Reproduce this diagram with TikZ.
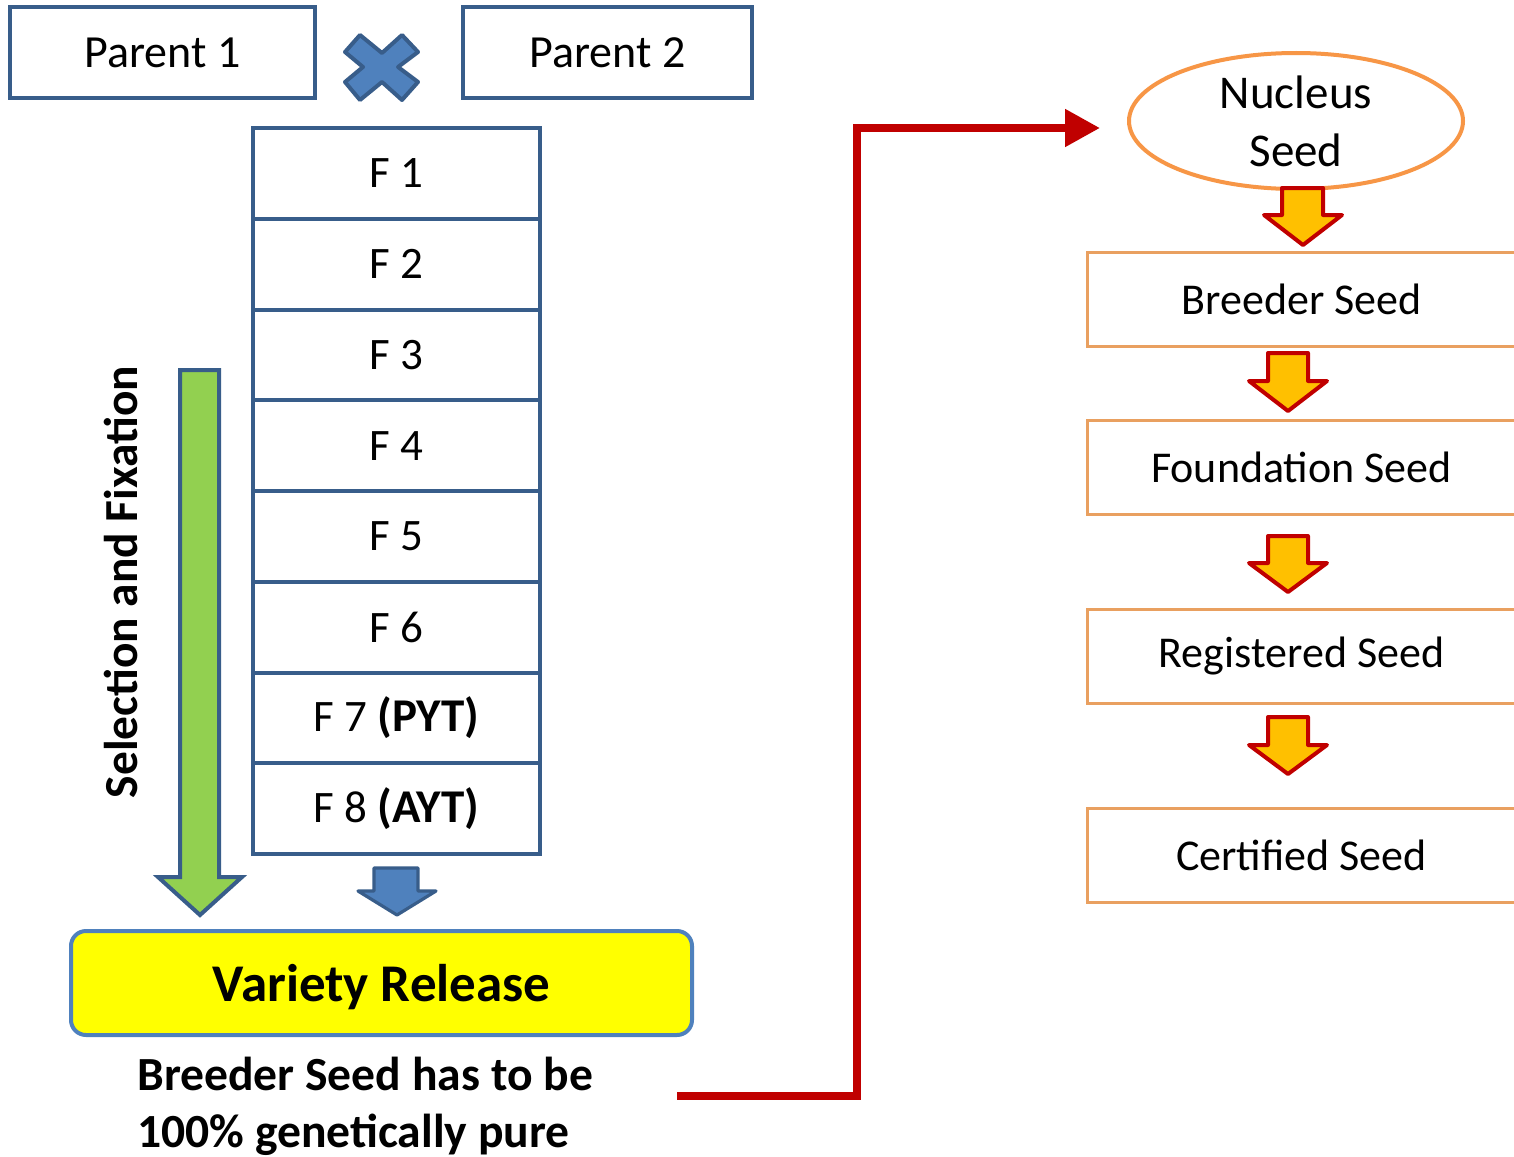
\documentclass[tikz,border=0pt]{standalone}
\usepackage{fontspec}
\setmainfont{Carlito}
\usetikzlibrary{shapes.geometric,arrows.meta}
\definecolor{bdark}{HTML}{385D8A}
\definecolor{bmid}{HTML}{4F81BD}
\definecolor{gfill}{HTML}{92D050}
\definecolor{ofill}{HTML}{FFC000}
\definecolor{rline}{HTML}{C00000}
\definecolor{oline}{HTML}{F79646}
\definecolor{tline}{HTML}{E9A060}
\definecolor{yfill}{HTML}{FFFF00}
\tikzset{
  parentbox/.style={draw=bdark, line width=2pt, fill=white, minimum height=45.5pt, inner sep=0pt, outer sep=0pt, font=\fontsize{23}{27}\selectfont},
  genbox/.style={draw=bdark, line width=2pt, fill=white, minimum width=143.5pt, minimum height=45.4pt, inner sep=0pt, outer sep=0pt, font=\fontsize{22.5}{27}\selectfont},
  seedbox/.style={draw=tline, line width=1.5pt, fill=white, minimum width=214.5pt, minimum height=47pt, inner sep=0pt, outer sep=0pt, font=\fontsize{22}{26}\selectfont},
  bluearrow/.style={draw=bdark, fill=bmid, line width=1.6pt, line join=round},
  greenarrow/.style={draw=bdark, fill=gfill, line width=2pt, line join=miter},
  orangearrow/.style={draw=rline, fill=ofill, line width=2pt, line join=round},
  notetext/.style={font=\bfseries\fontsize{23.8}{28}\selectfont, inner sep=0pt, anchor=base west},
}
\begin{document}
\begin{tikzpicture}[x=0.5pt,y=-0.5pt]
\useasboundingbox (0,0) rectangle (1514,1156);
\clip (0,0) rectangle (1514,1156);
% parents
\node[parentbox, minimum width=152.5pt] (p1) at (162.5,52.5) {Parent 1};
\node[parentbox, minimum width=144.5pt] (p2) at (607.5,52.5) {Parent 2};
\draw[draw=bdark, fill=bmid, line width=2pt, line join=round]
  (345,52)--(360,35)--(382,53)--(402,35)--(418,52)--(398,67)--(418,82)--(402,100)--(382,82)--(360,100)--(345,82)--(363,67)--cycle;
% generations
\node[genbox] (f1) at (396.5,173.4) {F 1};
\node[genbox] (f2) at (396.5,264.1) {F 2};
\node[genbox] (f3) at (396.5,354.9) {F 3};
\node[genbox] (f4) at (396.5,445.6) {F 4};
\node[genbox] (f5) at (396.5,536.4) {F 5};
\node[genbox] (f6) at (396.5,627.1) {F 6};
\node[genbox] (f7) at (396.5,717.9) {F 7 {\fontsize{23.5}{27}\selectfont\textbf{(PYT)}}};
\node[genbox] (f8) at (396.5,808.6) {F 8 {\fontsize{23.5}{27}\selectfont\textbf{(AYT)}}};
% arrows
\draw[bluearrow] (374,868)--(418,868)--(418,891)--(436,891)--(397,915)--(358,891)--(374,891)--cycle;
\draw[greenarrow] (180,370)--(219,370)--(219,877)--(242,877)--(200,915)--(158,877)--(180,877)--cycle;
\node[font=\bfseries\fontsize{23.7}{28}\selectfont, rotate=90, anchor=base, inner sep=0pt] (sel) at (137,582) {Selection and Fixation};
% release
\node[draw=bmid, line width=2pt, fill=yfill, rounded corners=7.5pt, minimum width=310.5pt, minimum height=52pt, inner sep=0pt, text depth=0pt, font=\bfseries\fontsize{26.5}{30}\selectfont] (vr) at (381.5,983) {Variety Release};
\node[notetext] (n1) at (137,1090) {Breeder Seed has to be};
\node[notetext] (n2) at (137,1147) {100\% genetically pure};
% right side
\node[ellipse, draw=oline, line width=2pt, fill=white, minimum width=167pt, minimum height=68pt, inner sep=0pt, align=center, font=\fontsize{23.5}{29}\selectfont] (nuc) at (1296,121) {Nucleus\\Seed};
\node[seedbox] (bs) at (1301.5,299) {Breeder Seed};
\node[seedbox] (fs) at (1301.5,467) {Foundation Seed};
\node[seedbox] (rs) at (1301.5,656) {Registered Seed};
\node[seedbox] (cs) at (1301.5,855.5) {Certified Seed};
\draw[orangearrow] (1282,188)--(1323,188)--(1323,215)--(1342,215)--(1303,245)--(1264,215)--(1282,215)--cycle;
\draw[orangearrow] (1268,353)--(1308,353)--(1308,381)--(1327,381)--(1288,411)--(1249,381)--(1268,381)--cycle;
\draw[orangearrow] (1268,536)--(1308,536)--(1308,563)--(1327,563)--(1288,592)--(1249,563)--(1268,563)--cycle;
\draw[orangearrow] (1268,717)--(1308,717)--(1308,745)--(1327,745)--(1288,774)--(1249,745)--(1268,745)--cycle;
% red connector
\coordinate (rstart) at (677,1096);
\coordinate (rend) at (1100,128);
\draw[rline, line width=4pt, line join=miter, -{Triangle[length=17.5pt,width=18pt]}] (rstart) -- (857,1096) -- (857,128) -- (rend);
\end{tikzpicture}
\end{document}
